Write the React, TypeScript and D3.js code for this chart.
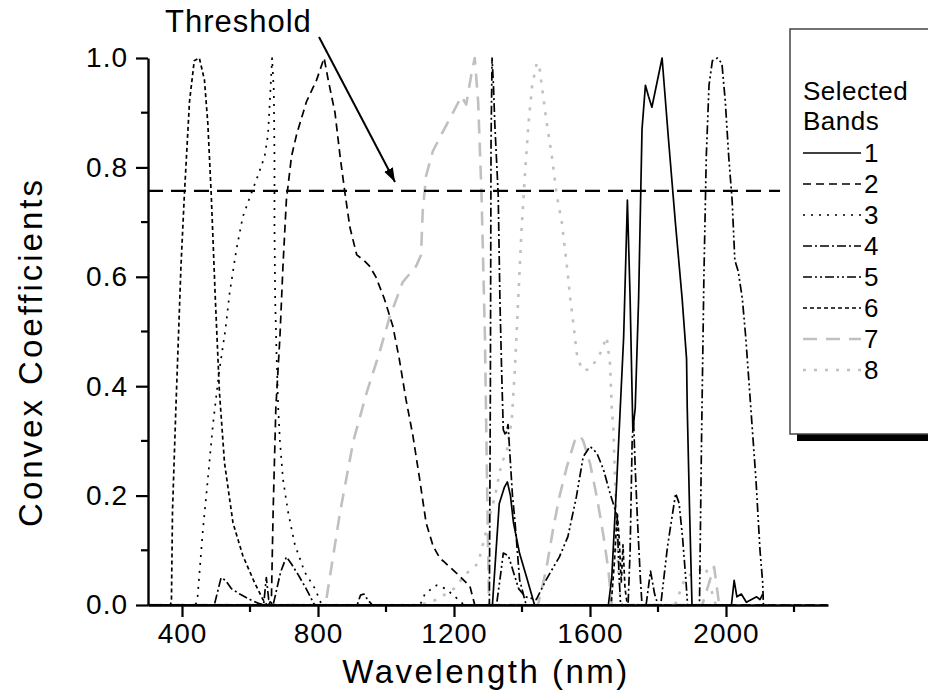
import React, { useEffect, useRef } from 'react';
import * as d3 from 'd3';

type Pt = [number, number];

// convex coefficient per selected band: [wavelength nm, coefficient]
const band1: Pt[] = [
  [300, 0], [1313, 0], [1333, 0.185], [1348, 0.215], [1357, 0.225], [1366, 0.2], [1375, 0.15],
  [1393, 0.094], [1414, 0.05], [1437, 0], [1654, 0], [1664, 0.05], [1679, 0.23], [1699, 0.49],
  [1710, 0.74], [1718, 0.56], [1726, 0.32], [1733, 0.36], [1743, 0.56], [1753, 0.87], [1763, 0.95],
  [1772, 0.93], [1782, 0.91], [1812, 1.0], [1831, 0.85], [1851, 0.7], [1871, 0.56], [1884, 0.45],
  [1886, 0.36], [1893, 0.17], [1900, 0], [2016, 0], [2024, 0.045], [2032, 0.015], [2045, 0.02],
  [2060, 0.005], [2075, 0.01], [2090, 0.015], [2100, 0.01], [2108, 0.02],
];
const band2: Pt[] = [
  [300, 0], [655, 0], [663, 0.01], [668, 0.17], [676, 0.36], [688, 0.49], [697, 0.62], [707, 0.74],
  [722, 0.82], [737, 0.86], [766, 0.92], [796, 0.96], [818, 1.0], [830, 0.96], [850, 0.9], [865, 0.82],
  [880, 0.75], [894, 0.69], [914, 0.64], [935, 0.63], [951, 0.62], [970, 0.6], [995, 0.56], [1020, 0.51],
  [1039, 0.45], [1059, 0.375], [1079, 0.31], [1099, 0.23], [1118, 0.15], [1139, 0.107], [1159, 0.085],
  [1169, 0.08], [1208, 0.058], [1247, 0.034], [1261, 0], [2300, 0],
];
const band3: Pt[] = [
  [300, 0], [440, 0], [446, 0.016], [461, 0.134], [476, 0.23], [491, 0.33], [510, 0.43], [528, 0.505],
  [540, 0.57], [560, 0.65], [579, 0.71], [604, 0.753], [624, 0.786], [643, 0.82], [653, 0.86], [660, 0.94],
  [665, 1.0], [670, 0.94], [672, 0.82], [672, 0.69], [674, 0.56], [678, 0.46], [683, 0.36], [688, 0.3],
  [697, 0.23], [712, 0.17], [732, 0.11], [761, 0.06], [791, 0.03], [811, 0], [1100, 0], [1115, 0.021],
  [1149, 0.036], [1175, 0.03], [1198, 0.018], [1230, 0], [2300, 0],
];
const band4: Pt[] = [
  [300, 0], [495, 0], [503, 0.02], [515, 0.05], [528, 0.045], [545, 0.03], [570, 0.02], [600, 0.01],
  [625, 0.003], [640, 0], [648, 0.05], [655, 0.01], [668, 0], [690, 0.06], [707, 0.088], [722, 0.075],
  [742, 0.055], [765, 0.03], [790, 0], [915, 0], [925, 0.018], [935, 0.02], [948, 0.008], [960, 0],
  [1304, 0], [1307, 0.4], [1309, 0.85], [1312, 1.0], [1316, 0.95], [1320, 0.88], [1330, 0.75],
  [1335, 0.56], [1340, 0.43], [1345, 0.32], [1352, 0.31], [1359, 0.33], [1364, 0.28], [1372, 0.2],
  [1379, 0.155], [1393, 0.046], [1410, 0.005], [1420, 0], [1712, 0], [1718, 0.1], [1724, 0.3],
  [1728, 0.34], [1733, 0.25], [1740, 0.15], [1748, 0.05], [1753, 0], [1765, 0], [1778, 0.062],
  [1790, 0.02], [1800, 0],
];
const band5: Pt[] = [
  [300, 0], [1325, 0], [1338, 0.06], [1345, 0.095], [1360, 0.09], [1375, 0.06], [1390, 0.03],
  [1410, 0.015], [1442, 0.01], [1471, 0.046], [1510, 0.088], [1535, 0.125], [1560, 0.198],
  [1580, 0.271], [1600, 0.29], [1620, 0.278], [1640, 0.247], [1659, 0.204], [1674, 0.174],
  [1680, 0.16], [1685, 0.06], [1690, 0], [1808, 0], [1828, 0.107], [1843, 0.168], [1852, 0.204],
  [1862, 0.186], [1872, 0.125], [1882, 0.046], [1887, 0], [1922, 0], [1928, 0.3], [1935, 0.6],
  [1942, 0.82], [1950, 0.95], [1960, 0.995], [1975, 1.0], [1988, 0.99], [1998, 0.92], [2008, 0.82],
  [2018, 0.74], [2026, 0.63], [2036, 0.61], [2048, 0.56], [2058, 0.49], [2073, 0.36], [2088, 0.23],
  [2100, 0.1], [2108, 0.04], [2110, 0],
];
const band6: Pt[] = [
  [300, 0], [366, 0], [369, 0.01], [372, 0.17], [382, 0.36], [397, 0.62], [407, 0.75], [422, 0.92],
  [436, 0.995], [451, 1.0], [466, 0.96], [476, 0.88], [486, 0.75], [498, 0.56], [510, 0.39],
  [525, 0.26], [550, 0.15], [579, 0.09], [614, 0.04], [638, 0.01], [650, 0], [1662, 0], [1672, 0.08],
  [1680, 0.17], [1686, 0.12], [1692, 0.04], [1697, 0.11], [1703, 0.03], [1710, 0],
];
const band7: Pt[] = [
  [300, 0], [820, 0], [826, 0.016], [865, 0.17], [904, 0.3], [944, 0.39], [980, 0.46], [1010, 0.525],
  [1049, 0.59], [1089, 0.62], [1103, 0.64], [1108, 0.72], [1118, 0.785], [1138, 0.83], [1167, 0.865],
  [1197, 0.9], [1222, 0.93], [1236, 0.915], [1251, 0.97], [1261, 1.0], [1271, 0.92], [1281, 0.75],
  [1291, 0.49], [1297, 0.23], [1303, 0], [1447, 0], [1471, 0.064], [1491, 0.137], [1510, 0.198],
  [1532, 0.253], [1555, 0.3], [1570, 0.31], [1580, 0.3], [1600, 0.259], [1620, 0.198], [1640, 0.125],
  [1654, 0.064], [1664, 0], [1930, 0], [1950, 0.04], [1965, 0.07], [1980, 0],
];
const band8: Pt[] = [
  [300, 0], [1100, 0], [1150, 0.01], [1200, 0.03], [1237, 0.058], [1271, 0.076], [1286, 0.113],
  [1305, 0.162], [1320, 0.198], [1340, 0.259], [1355, 0.28], [1364, 0.32], [1369, 0.33], [1379, 0.43],
  [1389, 0.56], [1399, 0.69], [1409, 0.79], [1419, 0.88], [1430, 0.95], [1443, 0.99], [1450, 0.99],
  [1458, 0.95], [1473, 0.88], [1488, 0.82], [1502, 0.75], [1517, 0.7], [1532, 0.62], [1542, 0.56],
  [1552, 0.51], [1561, 0.46], [1576, 0.43], [1596, 0.43], [1610, 0.44], [1630, 0.46], [1649, 0.49],
  [1659, 0.44], [1664, 0.36], [1669, 0.32], [1675, 0.2], [1682, 0.08], [1689, 0.01], [1695, 0],
  [1850, 0], [1880, 0.05], [1910, 0.06], [1940, 0.07], [1960, 0.02], [1970, 0],
];

const bands = [band1, band2, band3, band4, band5, band6, band7, band8];
const bandLabels = ['1', '2', '3', '4', '5', '6', '7', '8'];
const legendTitle = ['Selected', 'Bands'];

const xMajorTicks = [400, 800, 1200, 1600, 2000];
const xMinorTicks = [600, 1000, 1400, 1800, 2200];
const yMajorTicks = [0, 0.2, 0.4, 0.6, 0.8, 1.0];
const yMinorTicks = [0.1, 0.3, 0.5, 0.7, 0.9];
const threshold = 0.757;

// line styles for the eight bands (colour, dash pattern, width)
const bandStyles = [
  { color: '#000', dash: null, width: 1.7 },
  { color: '#000', dash: '8,5', width: 1.7 },
  { color: '#000', dash: '2,6', width: 1.7 },
  { color: '#000', dash: '9,3,2,3', width: 1.7 },
  { color: '#000', dash: '9,3,2,3,2,3', width: 1.7 },
  { color: '#000', dash: '4,3', width: 1.7 },
  { color: '#c0c0c0', dash: '14,9', width: 2.6 },
  { color: '#c0c0c0', dash: '3,8', width: 2.6 },
];

const FONT = '"Liberation Sans", Arial, Helvetica, sans-serif';

const App: React.FC = () => {
  const svgRef = useRef<SVGSVGElement>(null);
  const width = 928;
  const height = 700;

  useEffect(() => {
    const svg = d3.select(svgRef.current);
    svg.selectAll('*').remove();

    const plot = { left: 148, right: 828, top: 58, bottom: 605 };

    const x = d3.scaleLinear().domain([300, 2300]).range([plot.left, plot.right]);
    const y = d3.scaleLinear().domain([0, 1]).range([plot.bottom, plot.top]);

    svg.append('rect').attr('width', width).attr('height', height).attr('fill', '#fff');

    // curves
    const line = d3.line<Pt>()
      .x(d => x(d[0]))
      .y(d => y(d[1]));

    // gray curves first, black ones on top
    const order = [6, 7, 0, 1, 2, 3, 4, 5];
    order.forEach(i => {
      const s = bandStyles[i];
      svg.append('path')
        .datum(bands[i])
        .attr('d', line)
        .attr('fill', 'none')
        .attr('stroke', s.color)
        .attr('stroke-width', s.width)
        .attr('stroke-dasharray', s.dash)
        .attr('stroke-linejoin', 'round');
    });

    // threshold line
    svg.append('line')
      .attr('x1', plot.left).attr('x2', 780)
      .attr('y1', y(threshold)).attr('y2', y(threshold))
      .attr('stroke', '#000')
      .attr('stroke-width', 2.2)
      .attr('stroke-dasharray', '15,8');

    // axes
    const xAxis = d3.axisBottom(x)
      .tickValues(xMajorTicks)
      .tickSize(12)
      .tickSizeOuter(0)
      .tickPadding(6)
      .tickFormat(d3.format('d'));
    const gx = svg.append('g')
      .attr('transform', `translate(0,${plot.bottom})`)
      .call(xAxis);
    gx.selectAll('text')
      .style('font-family', FONT)
      .style('font-size', '28px')
      .style('letter-spacing', '1px')
      .attr('fill', '#000');

    gx.selectAll('.minor')
      .data(xMinorTicks)
      .enter()
      .append('line')
      .attr('class', 'minor')
      .attr('x1', d => x(d)).attr('x2', d => x(d))
      .attr('y1', 0).attr('y2', 7)
      .attr('stroke', '#000');

    const yAxis = d3.axisLeft(y)
      .tickValues(yMajorTicks)
      .tickSize(12)
      .tickSizeOuter(0)
      .tickPadding(8)
      .tickFormat(d3.format('.1f'));
    const gy = svg.append('g')
      .attr('transform', `translate(${plot.left},0)`)
      .call(yAxis);
    gy.selectAll('text')
      .style('font-family', FONT)
      .style('font-size', '28px')
      .style('letter-spacing', '1px')
      .attr('fill', '#000');

    gy.selectAll('.minor')
      .data(yMinorTicks)
      .enter()
      .append('line')
      .attr('class', 'minor')
      .attr('x1', 0).attr('x2', -7)
      .attr('y1', d => y(d)).attr('y2', d => y(d))
      .attr('stroke', '#000');

    [gx, gy].forEach(g => {
      g.select('.domain').attr('stroke', '#000').attr('stroke-width', 2.4);
      g.selectAll('line').attr('stroke', '#000').attr('stroke-width', 2.2);
    });

    // axis titles
    svg.append('text')
      .attr('x', (plot.left + plot.right) / 2 - 2)
      .attr('y', 683)
      .attr('text-anchor', 'middle')
      .style('font-family', FONT)
      .style('font-size', '33px')
      .style('letter-spacing', '2.5px')
      .text('Wavelength (nm)');

    svg.append('text')
      .attr('transform', `translate(42,352) rotate(-90)`)
      .attr('text-anchor', 'middle')
      .style('font-family', FONT)
      .style('font-size', '33px')
      .style('letter-spacing', '3px')
      .text('Convex Coefficients');

    // threshold annotation
    svg.append('text')
      .attr('x', 165)
      .attr('y', 32)
      .style('font-family', FONT)
      .style('font-size', '31px')
      .style('letter-spacing', '1px')
      .text('Threshold');

    svg.append('defs').append('marker')
      .attr('id', 'arrow')
      .attr('viewBox', '0 0 10 10')
      .attr('refX', 10).attr('refY', 5)
      .attr('markerWidth', 7).attr('markerHeight', 7)
      .attr('markerUnits', 'strokeWidth')
      .attr('orient', 'auto')
      .append('path')
      .attr('d', 'M0,1.5 L10,5 L0,8.5 Z')
      .attr('fill', '#000');

    svg.append('line')
      .attr('x1', 319).attr('y1', 37)
      .attr('x2', 395).attr('y2', 182)
      .attr('stroke', '#000')
      .attr('stroke-width', 2)
      .attr('marker-end', 'url(#arrow)');

    // legend
    const box = { x: 790, y: 29, w: 180, h: 405 };
    svg.append('rect')
      .attr('x', box.x + 7).attr('y', box.y + 7)
      .attr('width', box.w).attr('height', box.h)
      .attr('fill', '#000');
    svg.append('rect')
      .attr('x', box.x).attr('y', box.y)
      .attr('width', box.w).attr('height', box.h)
      .attr('fill', '#fff')
      .attr('stroke', '#444')
      .attr('stroke-width', 1.5);

    const legend = svg.append('g').attr('transform', `translate(${box.x + 13},0)`);
    legendTitle.forEach((t, i) => {
      legend.append('text')
        .attr('x', 0)
        .attr('y', 100 + i * 30)
        .style('font-family', FONT)
        .style('font-size', '26px')
        .style('letter-spacing', '0.5px')
        .text(t);
    });

    const items = legend.selectAll('.legend-item')
      .data(bandLabels)
      .enter()
      .append('g')
      .attr('class', 'legend-item')
      .attr('transform', (d, i) => `translate(0,${153 + i * 31})`);

    items.append('line')
      .attr('x1', 0).attr('x2', 58)
      .attr('y1', 0).attr('y2', 0)
      .attr('stroke', (d, i) => bandStyles[i].color)
      .attr('stroke-width', (d, i) => bandStyles[i].width)
      .attr('stroke-dasharray', (d, i) => bandStyles[i].dash);

    items.append('text')
      .attr('x', 61)
      .attr('y', 9)
      .style('font-family', FONT)
      .style('font-size', '26px')
      .text(d => d);
  }, []);

  return (
    <svg
      ref={svgRef}
      width={width}
      height={height}
      style={{ position: 'absolute', left: 0, top: 0, display: 'block' }}
    />
  );
};

export default App;
